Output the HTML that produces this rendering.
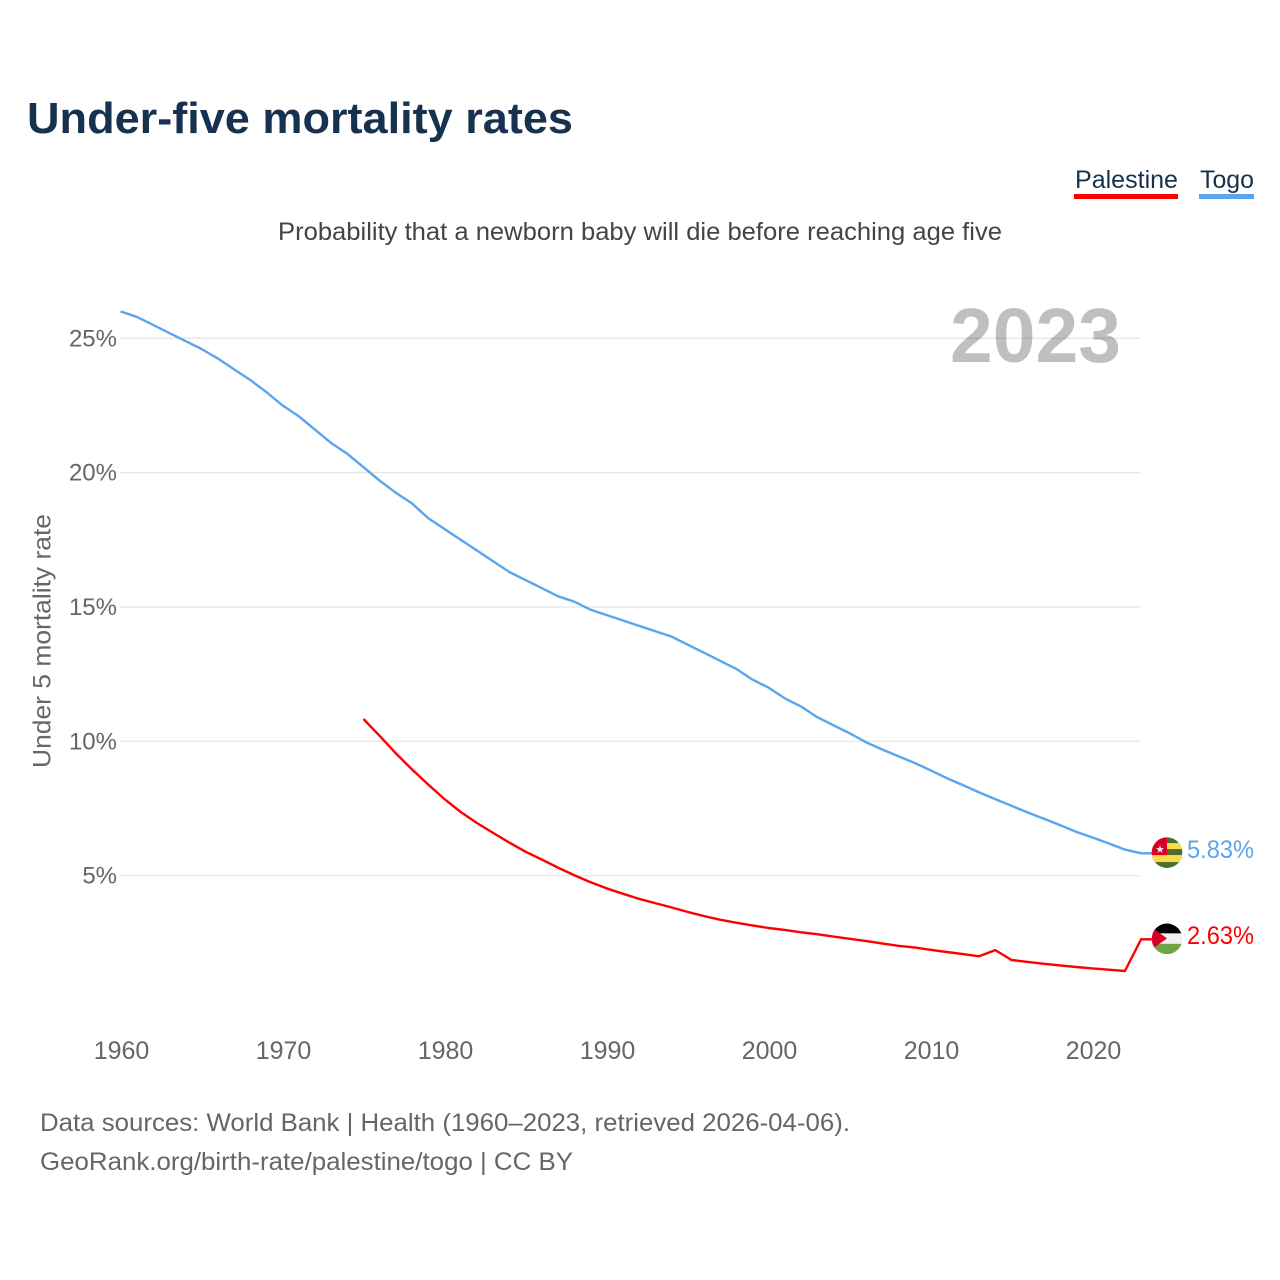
<!DOCTYPE html>
<html lang="en">
<head>
<meta charset="utf-8">
<title>Under-five mortality rates</title>
<style>
html,body{margin:0;padding:0;background:#fff;width:1280px;height:1280px;overflow:hidden}
svg{display:block}
text{font-family:"Liberation Sans",sans-serif}
</style>
</head>
<body>
<svg id="chart" xmlns="http://www.w3.org/2000/svg" width="1280" height="1280" viewBox="0 0 1280 1280">
  <text x="27" y="133" font-size="44" font-weight="700" fill="#17324f" textLength="546" lengthAdjust="spacingAndGlyphs">Under-five mortality rates</text>
  <text x="278" y="240" font-size="25" fill="#444444" textLength="724" lengthAdjust="spacingAndGlyphs">Probability that a newborn baby will die before reaching age five</text>

  <g>
    <text x="1075" y="188" font-size="25" fill="#17324f" textLength="103" lengthAdjust="spacingAndGlyphs">Palestine</text>
    <rect x="1074" y="194" width="104" height="5" fill="#ff0000"/>
  </g>
  <g>
    <text x="1200" y="188" font-size="25" fill="#17324f" textLength="54" lengthAdjust="spacingAndGlyphs">Togo</text>
    <rect x="1199" y="194" width="55" height="5" fill="#5ba4ee"/>
  </g>

  <g id="grid"></g>
  <text x="950" y="362" font-size="77" font-weight="700" fill="#000000" fill-opacity="0.25" textLength="171" lengthAdjust="spacingAndGlyphs">2023</text>
  <g id="yticks"></g>
  <g id="xticks"></g>
  <text transform="translate(50.5 768) rotate(-90)" x="0" y="0" font-size="25" fill="#666666" textLength="254" lengthAdjust="spacingAndGlyphs">Under 5 mortality rate</text>
  <g id="series"></g>

  <defs>
    <clipPath id="flag-clip"><circle cx="0" cy="0" r="15.3"/></clipPath>
  </defs>
  <g id="flag-togo">
    <g clip-path="url(#flag-clip)">
      <rect x="-16" y="-16" width="32" height="32" fill="#496e2d"/>
      <rect x="-16" y="-9.6" width="32" height="6" fill="#ffda44"/>
      <rect x="-16" y="2.4" width="32" height="7" fill="#ffda44"/>
      <rect x="-16" y="-16" width="16" height="18.4" fill="#d80027"/>
      <polygon points="-7,-7.5 -6,-4.5 -3,-4.5 -5.4,-2.7 -4.5,0.2 -7,-1.6 -9.5,0.2 -8.6,-2.7 -11,-4.5 -8,-4.5" fill="#f0f0f0"/>
    </g>
  </g>
  <g id="flag-palestine">
    <g clip-path="url(#flag-clip)">
      <rect x="-16" y="-16" width="32" height="32" fill="#f0f0f0"/>
      <rect x="-16" y="-16" width="32" height="10.5" fill="#000000"/>
      <rect x="-16" y="5" width="32" height="11" fill="#6da544"/>
      <polygon points="-16,-12 0,-0.5 -16,11" fill="#d80027"/>
    </g>
  </g>
  <text id="value-togo" x="1254" font-size="25" fill="#5ba4ee" text-anchor="end" textLength="67" lengthAdjust="spacingAndGlyphs"></text>
  <text id="value-palestine" x="1254" font-size="25" fill="#ff0000" text-anchor="end" textLength="67" lengthAdjust="spacingAndGlyphs"></text>

  <text x="40" y="1131" font-size="25" fill="#666666" textLength="810" lengthAdjust="spacingAndGlyphs">Data sources: World Bank | Health (1960–2023, retrieved 2026-04-06).</text>
  <text x="40" y="1170" font-size="25" fill="#666666" textLength="533" lengthAdjust="spacingAndGlyphs">GeoRank.org/birth-rate/palestine/togo | CC BY</text>
</svg>
<script>
var yTickValues = [5, 10, 15, 20, 25];
var xTickYears = [1960, 1970, 1980, 1990, 2000, 2010, 2020];
var togoStartYear = 1960;
var togoValues = [26.0,25.8,25.5,25.2,24.9,24.6,24.25,23.85,23.45,23.0,22.5,22.1,21.6,21.1,20.7,20.2,19.7,19.25,18.85,18.3,17.9,17.5,17.1,16.7,16.3,16.0,15.7,15.4,15.2,14.9,14.7,14.5,14.3,14.1,13.9,13.6,13.3,13.0,12.7,12.3,12.0,11.6,11.3,10.9,10.6,10.3,9.97,9.7,9.45,9.2,8.92,8.63,8.37,8.1,7.85,7.6,7.35,7.12,6.88,6.63,6.42,6.2,5.97,5.83];
var palestineStartYear = 1975;
var palestineValues = [10.83,10.2,9.55,8.95,8.39,7.85,7.37,6.96,6.59,6.23,5.89,5.6,5.3,5.02,4.76,4.53,4.33,4.14,3.98,3.82,3.65,3.5,3.36,3.25,3.15,3.05,2.98,2.89,2.82,2.73,2.65,2.57,2.48,2.39,2.33,2.24,2.16,2.08,2.0,2.23,1.86,1.79,1.72,1.66,1.6,1.55,1.5,1.45,2.63];

var NS = 'http://www.w3.org/2000/svg';
function xScale(year) { return 120.5 + (year - 1960) * 16.2; }
function yScale(v) { return 1010 - v * 26.87; }
function make(tag, parent) {
  var el = document.createElementNS(NS, tag);
  parent.appendChild(el);
  return el;
}

var gridGroup = document.getElementById('grid');
var yGroup = document.getElementById('yticks');
var xGroup = document.getElementById('xticks');
var seriesGroup = document.getElementById('series');

yTickValues.forEach(function (v) {
  var line = make('line', gridGroup);
  
  
  line.setAttribute('x1', 120);
  line.setAttribute('x2', 1141);
  line.setAttribute('y1', yScale(v));
  line.setAttribute('y2', yScale(v));
  line.setAttribute('stroke', '#e8e8e8');
  line.setAttribute('stroke-width', 1.4);

  var label = make('text', yGroup);
  
  
  label.setAttribute('x', 117);
  label.setAttribute('y', yScale(v) + 8);
  label.setAttribute('text-anchor', 'end');
  label.setAttribute('font-size', 24);
  label.setAttribute('fill', '#666666');
  label.textContent = v + '%';
});

xTickYears.forEach(function (year) {
  var label = make('text', xGroup);
  
  
  label.setAttribute('x', xScale(year) + 1);
  label.setAttribute('y', 1059);
  label.setAttribute('text-anchor', 'middle');
  label.setAttribute('font-size', 25);
  label.setAttribute('fill', '#666666');
  label.textContent = year;
});

function linePoints(startYear, values) {
  var pts = values.map(function (v, i) {
    return xScale(startYear + i).toFixed(1) + ',' + yScale(v).toFixed(1);
  });
  var last = values[values.length - 1];
  pts.push('1152,' + yScale(last).toFixed(1));
  return pts.join(' ');
}

var togoLine = make('polyline', seriesGroup);


togoLine.setAttribute('points', linePoints(togoStartYear, togoValues));
togoLine.setAttribute('fill', 'none');
togoLine.setAttribute('stroke', '#5ba4ee');
togoLine.setAttribute('stroke-width', 2.4);
togoLine.setAttribute('stroke-linejoin', 'round');

var palestineLine = make('polyline', seriesGroup);


palestineLine.setAttribute('points', linePoints(palestineStartYear, palestineValues));
palestineLine.setAttribute('fill', 'none');
palestineLine.setAttribute('stroke', '#ff0000');
palestineLine.setAttribute('stroke-width', 2.4);
palestineLine.setAttribute('stroke-linejoin', 'round');

var togoLast = togoValues[togoValues.length - 1];
var palestineLast = palestineValues[palestineValues.length - 1];
document.getElementById('flag-togo').setAttribute('transform', 'translate(1167 ' + (yScale(togoLast) - 0.7) + ')');
document.getElementById('flag-palestine').setAttribute('transform', 'translate(1167 ' + (yScale(palestineLast) - 0.5) + ')');
var togoLabel = document.getElementById('value-togo');
togoLabel.setAttribute('y', yScale(togoLast) + 4.5);
togoLabel.textContent = togoLast.toFixed(2) + '%';
var palestineLabel = document.getElementById('value-palestine');
palestineLabel.setAttribute('y', yScale(palestineLast) + 4.5);
palestineLabel.textContent = palestineLast.toFixed(2) + '%';
</script>
</body>
</html>
